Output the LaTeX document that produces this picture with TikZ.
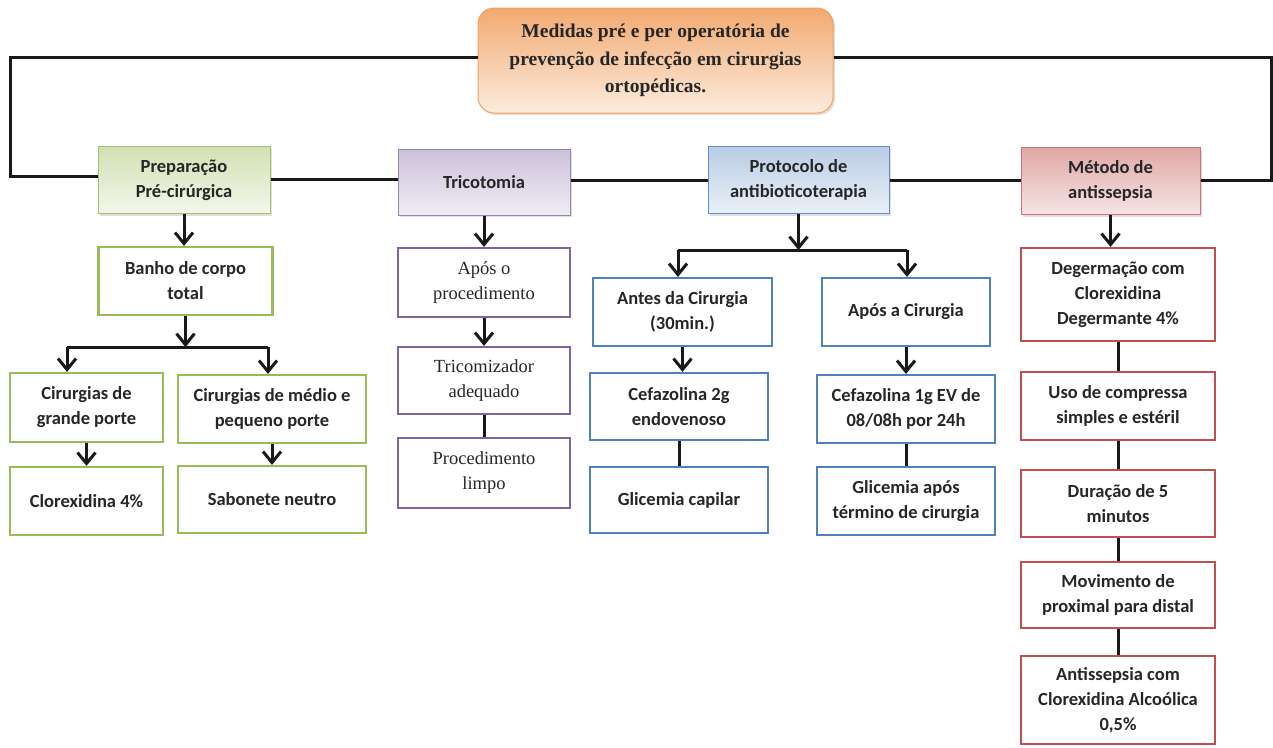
\documentclass[tikz,border=0pt]{standalone}
\usepackage{fontspec}
\setmainfont{Liberation Serif}
\newfontfamily\carlito{Carlito}
\usepackage{tikz}
\usetikzlibrary{arrows.meta,shadows,positioning}
\definecolor{orng}{HTML}{F0A060}
\definecolor{grn}{HTML}{9BBB59}
\definecolor{prpl}{HTML}{8064A2}
\definecolor{blu}{HTML}{4F81BD}
\definecolor{rd}{HTML}{C0504D}
\tikzset{
	>={Straight Barb[length=11pt,width=18pt]},
	box/.style={draw, rectangle, line width=2.2pt, align=center, inner sep=0pt, text=black!85,
		font=\carlito\bfseries\fontsize{18.5}{25}\selectfont},
	serifbox/.style={box, font=\fontsize{18.5}{25}\selectfont},
	head/.style={box, line width=1pt, drop shadow={opacity=0.25, shadow xshift=2pt, shadow yshift=-2pt}},
	link/.style={line width=3pt, black!90},
}
\begin{document}
\begin{tikzpicture}[x=1pt, y=-1pt]
	\useasboundingbox (0,0) rectangle (1273,747);
	\node [head, draw=orng, rounded corners=16pt, top color=orng!90, bottom color=orng!20,
		minimum width=355, minimum height=105, font=\bfseries\fontsize{19.5}{27.5}\selectfont]
		(0) at (655.5, 60.5) {Medidas pré e per operatória de\\prevenção de infecção em cirurgias\\ortopédicas.};
	\node [head, draw=grn!90, top color=grn!45, bottom color=grn!12, minimum width=172, minimum height=67] (1) at (184, 180) {Preparação\\Pré-cirúrgica};
	\node [head, draw=prpl!80, top color=prpl!40, bottom color=prpl!12, minimum width=172, minimum height=66] (2) at (484, 182) {Tricotomia};
	\node [head, draw=blu!90, top color=blu!40, bottom color=blu!12, minimum width=181, minimum height=67] (3) at (798.5, 180) {Protocolo de\\antibioticoterapia};
	\node [head, draw=rd!80, top color=rd!50, bottom color=rd!15, minimum width=179, minimum height=67] (4) at (1110.5, 181) {Método de\\antissepsia};
	% preparacao
	\node [box, draw=grn, minimum width=174, minimum height=68] (5) at (185.5, 281) {Banho de corpo\\total};
	\node [box, draw=grn, minimum width=153, minimum height=69] (6) at (86.5, 407.5) {Cirurgias de\\grande porte};
	\node [box, draw=grn, minimum width=188, minimum height=68] (7) at (272, 409) {Cirurgias de médio e\\pequeno porte};
	\node [box, draw=grn, minimum width=153, minimum height=68] (8) at (86.5, 501) {Clorexidina 4\%};
	\node [box, draw=grn, minimum width=188, minimum height=67] (9) at (272, 499.5) {Sabonete neutro};
	% tricotomia
	\node [serifbox, draw=prpl, minimum width=172, minimum height=69] (10) at (484, 282.5) {Após o\\procedimento};
	\node [serifbox, draw=prpl, minimum width=172, minimum height=67] (11) at (484, 380.5) {Tricomizador\\adequado};
	\node [serifbox, draw=prpl, minimum width=172, minimum height=70] (12) at (484, 473) {Procedimento\\limpo};
	% antibioticoterapia
	\node [box, draw=blu, minimum width=179, minimum height=68] (13) at (682.5, 312) {Antes da Cirurgia\\(30min.)};
	\node [box, draw=blu, minimum width=168, minimum height=68] (14) at (906, 312) {Após a Cirurgia};
	\node [box, draw=blu, minimum width=178, minimum height=67] (15) at (679, 406.5) {Cefazolina 2g\\endovenoso};
	\node [box, draw=blu, minimum width=178, minimum height=68] (16) at (906, 409) {Cefazolina 1g EV de\\08/08h por 24h};
	\node [box, draw=blu, minimum width=178, minimum height=66] (17) at (679, 500) {Glicemia capilar};
	\node [box, draw=blu, minimum width=178, minimum height=68] (18) at (906, 501) {Glicemia após\\término de cirurgia};
	% antissepsia
	\node [box, draw=rd, minimum width=194, minimum height=93] (19) at (1118, 294.5) {Degermação com\\Clorexidina\\Degermante 4\%};
	\node [box, draw=rd, minimum width=194, minimum height=68] (20) at (1118, 406) {Uso de compressa\\simples e estéril};
	\node [box, draw=rd, minimum width=194, minimum height=67] (21) at (1118, 503.5) {Duração de 5\\minutos};
	\node [box, draw=rd, minimum width=194, minimum height=66] (22) at (1118, 595) {Movimento de\\proximal para distal};
	\node [box, draw=rd, minimum width=194, minimum height=88] (23) at (1118, 700) {Antissepsia com\\Clorexidina Alcoólica\\0,5\%};
	\coordinate (c0) at (10, 176);
	\coordinate (c1) at (1271, 180);
	\coordinate (b1) at (67, 347);
	\coordinate (b2) at (268, 347);
	\coordinate (b3) at (678, 250);
	\coordinate (b4) at (907, 250);
	\draw [link] (0.west |- 0, 57) -| (c0) -- (c0 -| 1.west);
	\draw [link] (0.east |- 0, 57) -| (c1) -- (c1 -| 4.east);
	\draw [link] (1.east |- 0, 179) -- (2.west |- 0, 179);
	\draw [link] (2.east |- 0, 180) -- (3.west |- 0, 180);
	\draw [link] (3.east |- 0, 180) -- (4.west |- 0, 180);
	\draw [link, ->] (1) -- (1 |- 5.north);
	\draw [link, ->] (5) -- (5.south |- b1);
	\draw [link] (b1) -- (b2);
	\draw [link, ->] (b1) -- (b1 |- 6.north);
	\draw [link, ->] (b2) -- (b2 |- 7.north);
	\draw [link, ->] (6) -- (6 |- 8.north);
	\draw [link, ->] (7) -- (7 |- 9.north);
	\draw [link, ->] (2) -- (10);
	\draw [link, ->] (10) -- (11);
	\draw [link] (11) -- (12);
	\draw [link, ->] (3) -- (3.south |- b3);
	\draw [link] (b3) -- (b4);
	\draw [link, ->] (b3) -- (b3 |- 13.north);
	\draw [link, ->] (b4) -- (b4 |- 14.north);
	\draw [link, ->] (13) -- (13 |- 15.north);
	\draw [link, ->] (14) -- (14 |- 16.north);
	\draw [link] (15) -- (15 |- 17.north);
	\draw [link] (16) -- (16 |- 18.north);
	\draw [link, ->] (4) -- (4 |- 19.north);
	\draw [link] (19) -- (19 |- 20.north);
	\draw [link] (20) -- (21);
	\draw [link] (21) -- (22);
	\draw [link] (22) -- (23);
\end{tikzpicture}
\end{document}
